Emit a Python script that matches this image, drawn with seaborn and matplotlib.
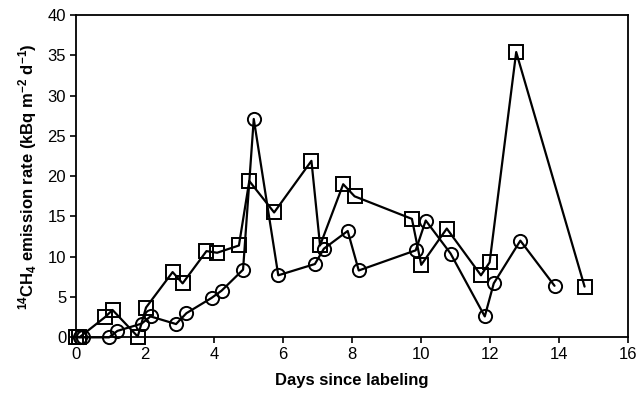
import matplotlib
matplotlib.use("Agg")
import matplotlib.pyplot as plt
import seaborn as sns
import pandas as pd

# Series with square markers
sq_days = [0.0, 0.1, 0.84, 1.06, 1.79, 2.03, 2.8, 3.09, 3.78, 4.09, 4.72, 5.02, 5.74,
           6.82, 7.07, 7.74, 8.07, 9.73, 10.0, 10.74, 11.73, 11.98, 12.75, 14.73]
sq_rate = [0.0, 0.0, 2.5, 3.4, 0.1, 3.7, 8.1, 6.7, 10.7, 10.5, 11.4, 19.4, 15.5,
           21.9, 11.4, 19.0, 17.5, 14.7, 9.0, 13.5, 7.7, 9.3, 35.4, 6.3]

# Series with circle markers
ci_days = [0.12, 0.2, 0.96, 1.2, 1.9, 2.16, 2.9, 3.2, 3.93, 4.22, 4.84, 5.15, 5.86,
           6.92, 7.18, 7.87, 8.19, 9.84, 10.13, 10.85, 11.84, 12.1, 12.87, 13.86]
ci_rate = [0.0, 0.0, 0.0, 0.8, 1.7, 2.6, 1.65, 3.0, 4.9, 5.8, 8.4, 27.1, 7.7,
           9.1, 11.0, 13.2, 8.3, 10.8, 14.5, 10.4, 2.6, 6.7, 12.0, 6.4]

x_ticks = [0, 2, 4, 6, 8, 10, 12, 14, 16]
y_ticks = [0, 5, 10, 15, 20, 25, 30, 35, 40]

sns.set_style("ticks")
plt.rcParams["font.family"] = ["Liberation Sans", "DejaVu Sans"]
plt.rcParams["text.color"] = "black"
plt.rcParams["axes.labelcolor"] = "black"
plt.rcParams["mathtext.fontset"] = "custom"
plt.rcParams["mathtext.bf"] = "Liberation Sans:bold"
plt.rcParams["mathtext.rm"] = "Liberation Sans:bold"
plt.rcParams["mathtext.default"] = "bf"

fig = plt.figure(figsize=(6.38, 4.05), dpi=100)
ax = fig.add_axes([0.119, 0.167, 0.866, 0.796])

df_sq = pd.DataFrame({"days": sq_days, "rate": sq_rate})
df_ci = pd.DataFrame({"days": ci_days, "rate": ci_rate})

common = dict(color="black", linewidth=1.6, markersize=9.5, markerfacecolor="none",
              markeredgecolor="black", markeredgewidth=1.4, sort=False,
              estimator=None, clip_on=False, ax=ax)
sns.lineplot(data=df_sq, x="days", y="rate", marker="s", **common)
sns.lineplot(data=df_ci, x="days", y="rate", marker="o", **common)

ax.set_xlim(0, 16)
ax.set_ylim(0, 40)
ax.set_xticks(x_ticks)
ax.set_yticks(y_ticks)
ax.tick_params(axis="both", direction="out", length=4, width=1.2, labelsize=12,
               colors="black", pad=3)
for s in ax.spines.values():
    s.set_visible(True)
    s.set_linewidth(1.3)
    s.set_color("black")

ax.set_xlabel("Days since labeling", fontsize=12, fontweight="bold", labelpad=8,
              color="black")
ax.set_ylabel(r"$^{14}$CH$_4$ emission rate (kBq m$^{-2}$ d$^{-1}$)",
              fontsize=12, fontweight="bold", labelpad=6, color="black")

fig.savefig("out.png", dpi=100)
